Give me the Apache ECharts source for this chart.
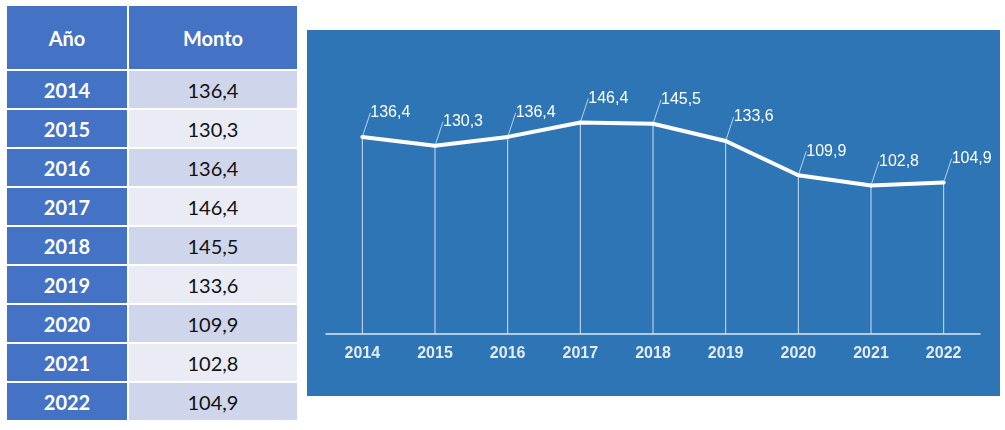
<!DOCTYPE html>
<html lang="es">
<head>
    <meta charset="UTF-8">
    <title>Monto por año</title>
    <script src="https://cdn.jsdelivr.net/npm/echarts@6/dist/echarts.min.js"></script>
    <style>
        body { margin: 0; background: #fff; width: 1005px; height: 430px; position: relative; overflow: hidden; }
        #tabla {
            position: absolute; left: 7px; top: 6px;
            display: grid; grid-template-columns: 120px 168px;
            grid-template-rows: 63px repeat(9, 37px); gap: 2px;
            font-family: Lato, "Noto Sans", sans-serif; font-size: 20px;
        }
        #tabla div { display: flex; align-items: center; justify-content: center; }
        #tabla .cab { background: #4472C4; color: #fff; font-weight: bold; }
        #tabla .anio { background: #4472C4; color: #fff; font-weight: bold; }
        #tabla .monto { color: #111; }
        #tabla .impar { background: #CFD5EA; }
        #tabla .par { background: #E9EBF5; }
        #grafico { position: absolute; left: 307px; top: 30px; width: 693px; height: 366px; background: #2E75B6; }
    </style>
</head>
<body>
    <div id="tabla"></div>
    <div id="grafico"></div>
    <script>
        // datos
        var anios = ['2014', '2015', '2016', '2017', '2018', '2019', '2020', '2021', '2022']
        var montos = [136.4, 130.3, 136.4, 146.4, 145.5, 133.6, 109.9, 102.8, 104.9]
        var encabezados = ['Año', 'Monto']

        function formato(v) {
            return v.toFixed(1).replace('.', ',')
        }

        // #region tabla
        var tabla = document.getElementById('tabla')
        var html = '<div class="cab">' + encabezados[0] + '</div><div class="cab">' + encabezados[1] + '</div>'
        for (var i = 0; i < anios.length; i++) {
            html += '<div class="anio">' + anios[i] + '</div>' +
                '<div class="monto ' + (i % 2 === 0 ? 'impar' : 'par') + '">' + formato(montos[i]) + '</div>'
        }
        tabla.innerHTML = html
        // #endregion

        // #region grafico de linea
        var chart = echarts.init(document.getElementById('grafico'))

        var option = {
            animation: false,
            backgroundColor: '#2E75B6',
            grid: { left: 19, right: 20, top: 15, bottom: 62 },
            xAxis: {
                type: 'category',
                data: anios,
                boundaryGap: true,
                axisLine: { lineStyle: { color: '#DCE7F5', width: 1.5 } },
                axisTick: { show: false },
                axisLabel: {
                    color: '#E3ECF7',
                    fontFamily: 'Liberation Sans, Arial, sans-serif',
                    fontWeight: 'bold',
                    fontSize: 16,
                    margin: 12
                }
            },
            yAxis: {
                type: 'value',
                min: 0,
                max: 200,
                show: false,
                splitLine: { show: false }
            },
            series: [
                {
                    // lineas verticales bajo cada punto
                    type: 'bar',
                    data: montos,
                    barWidth: 1,
                    silent: true,
                    itemStyle: { color: 'rgba(235,242,250,0.85)' },
                    z: 1
                },
                {
                    type: 'line',
                    data: montos,
                    symbol: 'circle',
                    symbolSize: 4,
                    itemStyle: { color: '#fff' },
                    lineStyle: { color: '#fff', width: 4 },
                    z: 3,
                    label: {
                        show: true,
                        position: 'top',
                        distance: 5,
                        color: '#fff',
                        fontFamily: 'Liberation Sans, Arial, sans-serif',
                        fontSize: 16,
                        formatter: function (p) { return formato(p.value) }
                    },
                    labelLayout: { dx: 28, dy: -9 },
                    labelLine: {
                        show: true,
                        length2: 0,
                        lineStyle: { color: 'rgba(220,232,246,0.8)', width: 1 }
                    }
                }
            ]
        }

        chart.setOption(option)
        // #endregion
    </script>
</body>
</html>
